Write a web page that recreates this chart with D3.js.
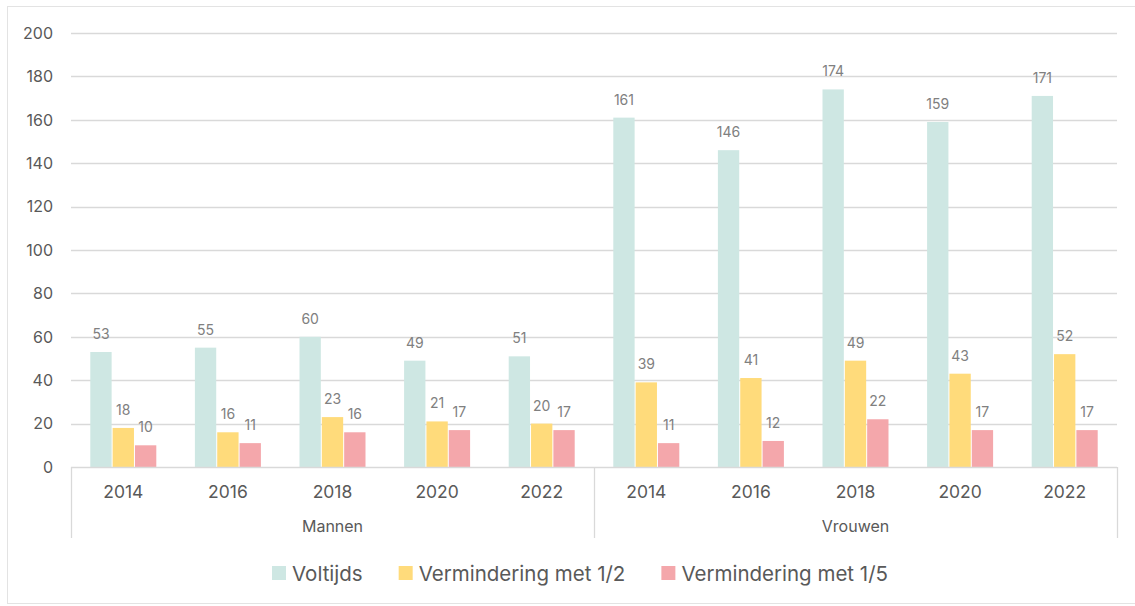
<!DOCTYPE html>
<html><head><meta charset="utf-8">
<script src="https://cdn.jsdelivr.net/npm/d3@7"></script>
<style>body{margin:0;background:#fff;}svg{display:block;font-family:Inter,"Noto Sans",sans-serif;}</style>
</head><body><svg id="c" width="1135" height="606"></svg>
<script>
const groups = ["Mannen", "Vrouwen"];
const years = ["2014", "2016", "2018", "2020", "2022"];
const seriesNames = ["Voltijds", "Vermindering met 1/2", "Vermindering met 1/5"];
const colors = ["#CEE7E3", "#FFDB7B", "#F4A7AB"];
const voltijds = [53, 55, 60, 49, 51, 161, 146, 174, 159, 171];
const half = [18, 16, 23, 21, 20, 39, 41, 49, 43, 52];
const fifth = [10, 11, 16, 17, 17, 11, 12, 22, 17, 17];
const yTicks = [0, 20, 40, 60, 80, 100, 120, 140, 160, 180, 200];

(function () {
const svg = d3.select("#c");
svg.append("rect").attr("x", 7.5).attr("y", 6.5).attr("width", 1140).attr("height", 597)
  .attr("fill", "#fff").attr("stroke", "#e3e3e3");

const pLeft = 71, pRight = 1117, pTop = 33, pBottom = 467;
const cats = [];
groups.forEach(g => years.forEach(y => cats.push(g + "|" + y)));
const series = [voltijds, half, fifth];

const x0 = d3.scaleBand().domain(cats).range([pLeft, pRight]);
const x1 = d3.scaleBand().domain(seriesNames).range([0, 66]).paddingInner(0.045);
const y = d3.scaleLinear().domain([0, 200]).range([pBottom, pTop]);

svg.append("g").selectAll("line").data(yTicks.filter(d => d > 0)).join("line")
  .attr("x1", pLeft).attr("x2", pRight).attr("y1", d => Math.round(y(d)) + 0.5).attr("y2", d => Math.round(y(d)) + 0.5)
  .attr("stroke", "#d9d9d9").attr("stroke-width", 1.3);

svg.append("g").selectAll("text").data(yTicks).join("text")
  .attr("x", 53).attr("y", d => y(d)).attr("dy", "0.36em").attr("text-anchor", "end")
  .attr("font-size", 16).attr("fill", "#595959").text(d => d);

const offset = (x0.bandwidth() - 66) / 2;
series.forEach((vals, si) => {
  const g = svg.append("g");
  g.selectAll("rect").data(vals).join("rect")
    .attr("x", (d, i) => x0(cats[i]) + offset + x1(seriesNames[si]))
    .attr("y", d => y(d)).attr("width", x1.bandwidth()).attr("height", d => pBottom - y(d))
    .attr("fill", colors[si]);
  g.selectAll("text").data(vals).join("text")
    .attr("x", (d, i) => x0(cats[i]) + offset + x1(seriesNames[si]) + x1.bandwidth() / 2)
    .attr("y", d => y(d) - 13).attr("text-anchor", "middle")
    .attr("font-size", 14).attr("fill", "#808080").text(d => d);
});

svg.append("line").attr("x1", pLeft).attr("x2", pRight).attr("y1", pBottom + 0.5).attr("y2", pBottom + 0.5)
  .attr("stroke", "#d9d9d9").attr("stroke-width", 1.3);
[pLeft, x0("Vrouwen|2014"), pRight].forEach(xv => {
  svg.append("line").attr("x1", Math.round(xv) + 0.5).attr("x2", Math.round(xv) + 0.5)
    .attr("y1", pBottom).attr("y2", 538).attr("stroke", "#d9d9d9").attr("stroke-width", 1.3);
});

svg.append("g").selectAll("text").data(cats).join("text")
  .attr("x", d => x0(d) + x0.bandwidth() / 2).attr("y", 498).attr("text-anchor", "middle")
  .attr("font-size", 17.5).attr("fill", "#595959").text(d => d.split("|")[1]);

svg.append("g").selectAll("text").data(groups).join("text")
  .attr("x", g => x0(g + "|2014") + x0.bandwidth() * 2.5).attr("y", 532).attr("text-anchor", "middle")
  .attr("font-size", 16).attr("fill", "#595959").text(d => d);

const lg = svg.append("g");
let lx = 272;
seriesNames.forEach((n, i) => {
  lg.append("rect").attr("x", lx).attr("y", 566).attr("width", 14).attr("height", 14).attr("fill", colors[i]);
  const t = lg.append("text").attr("x", lx + 20).attr("y", 581).attr("font-size", 20.5).attr("fill", "#595959").text(n);
  const w = t.node().getComputedTextLength();
  lx += 20 + w + 36;
});
})();
</script></body></html>
